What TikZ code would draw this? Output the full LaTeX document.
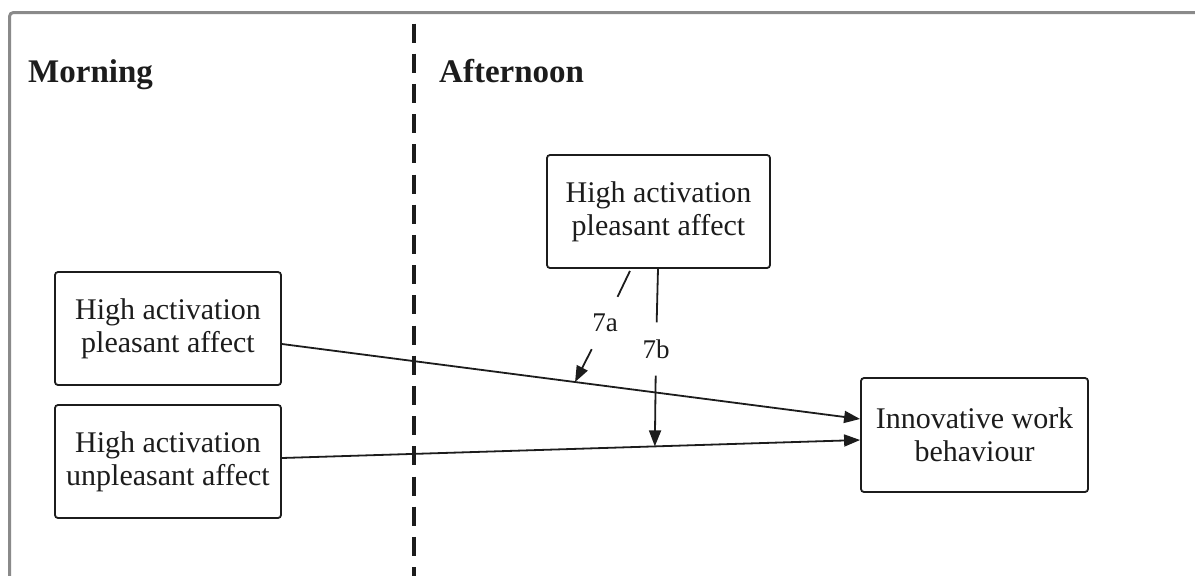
\documentclass[tikz,border=0pt]{standalone}
\usepackage{fontspec}
\setmainfont{Liberation Serif}
\usetikzlibrary{arrows.meta,calc}
\definecolor{ink}{HTML}{1C1C1C}
\definecolor{framegray}{HTML}{8A8A8A}
\begin{document}
\begin{tikzpicture}[x=1pt,y=-1pt,
  box/.style={draw=ink, line width=1.8pt, rounded corners=3pt,
    minimum width=226pt, minimum height=113pt, align=center,
    font=\fontsize{30}{33}\selectfont, text=ink, inner sep=0pt},
  link/.style={draw=ink, line width=1.8pt},
  arr/.style={link, -{Triangle[length=16pt,width=12pt]}},
  tag/.style={font=\fontsize{27}{30}\selectfont, text=ink,
    inner xsep=4pt, inner ysep=17pt},
  heading/.style={font=\fontsize{33}{36}\selectfont\bfseries, text=ink,
    anchor=base west, inner sep=0pt}]
\useasboundingbox (0,0) rectangle (1195,576);
\clip (0,0) rectangle (1195,576);

% outer frame (runs off the right and bottom)
\draw[framegray, line width=3pt, rounded corners=4pt]
  (9.5,620) -- (9.5,12.5) -- (1230,12.5);

% boundary between the two measurement occasions
\coordinate (divtop) at (414,23.5);
\coordinate (divbot) at (414,590);
\draw[ink, line width=3.5pt, dash pattern=on 19pt off 11.2pt] (divtop) -- (divbot);

% headings
\node[heading] (morning) at (28,82) {Morning};
\node[heading] (afternoon) at (439,82) {Afternoon};

% construct boxes
\node[box] (hapM) at (168,328.5) {High activation\\pleasant affect};
\node[box] (hauM) at (168,461.5) {High activation\\unpleasant affect};
\node[box, minimum width=223pt] (hapA) at (658.5,211.5) {High activation\\pleasant affect};
\node[box, minimum width=227pt, minimum height=114pt] (iwb) at (974.5,435) {Innovative work\\behaviour};

% main effects
\draw[arr] ([yshift=-15.5pt]hapM.east) -- coordinate[pos=0.507] (m1) ([yshift=16pt]iwb.west);
\draw[arr] ([yshift=3.5pt]hauM.east) -- coordinate[pos=0.645] (m2) ([yshift=-5pt]iwb.west);

% moderation paths
\node[tag] (l7a) at (605,323) {7a};
\node[tag] (l7b) at (656,349) {7b};
\coordinate (s7a) at ([xshift=-28.5pt,yshift=-2pt]hapA.south);
\coordinate (s7b) at ([xshift=-0.5pt]hapA.south);
\draw[link] (s7a) -- (l7a);
\draw[arr] (l7a) -- (m1);
\draw[link] (s7b) -- (l7b);
\draw[arr] (l7b) -- (m2);
\end{tikzpicture}
\end{document}
